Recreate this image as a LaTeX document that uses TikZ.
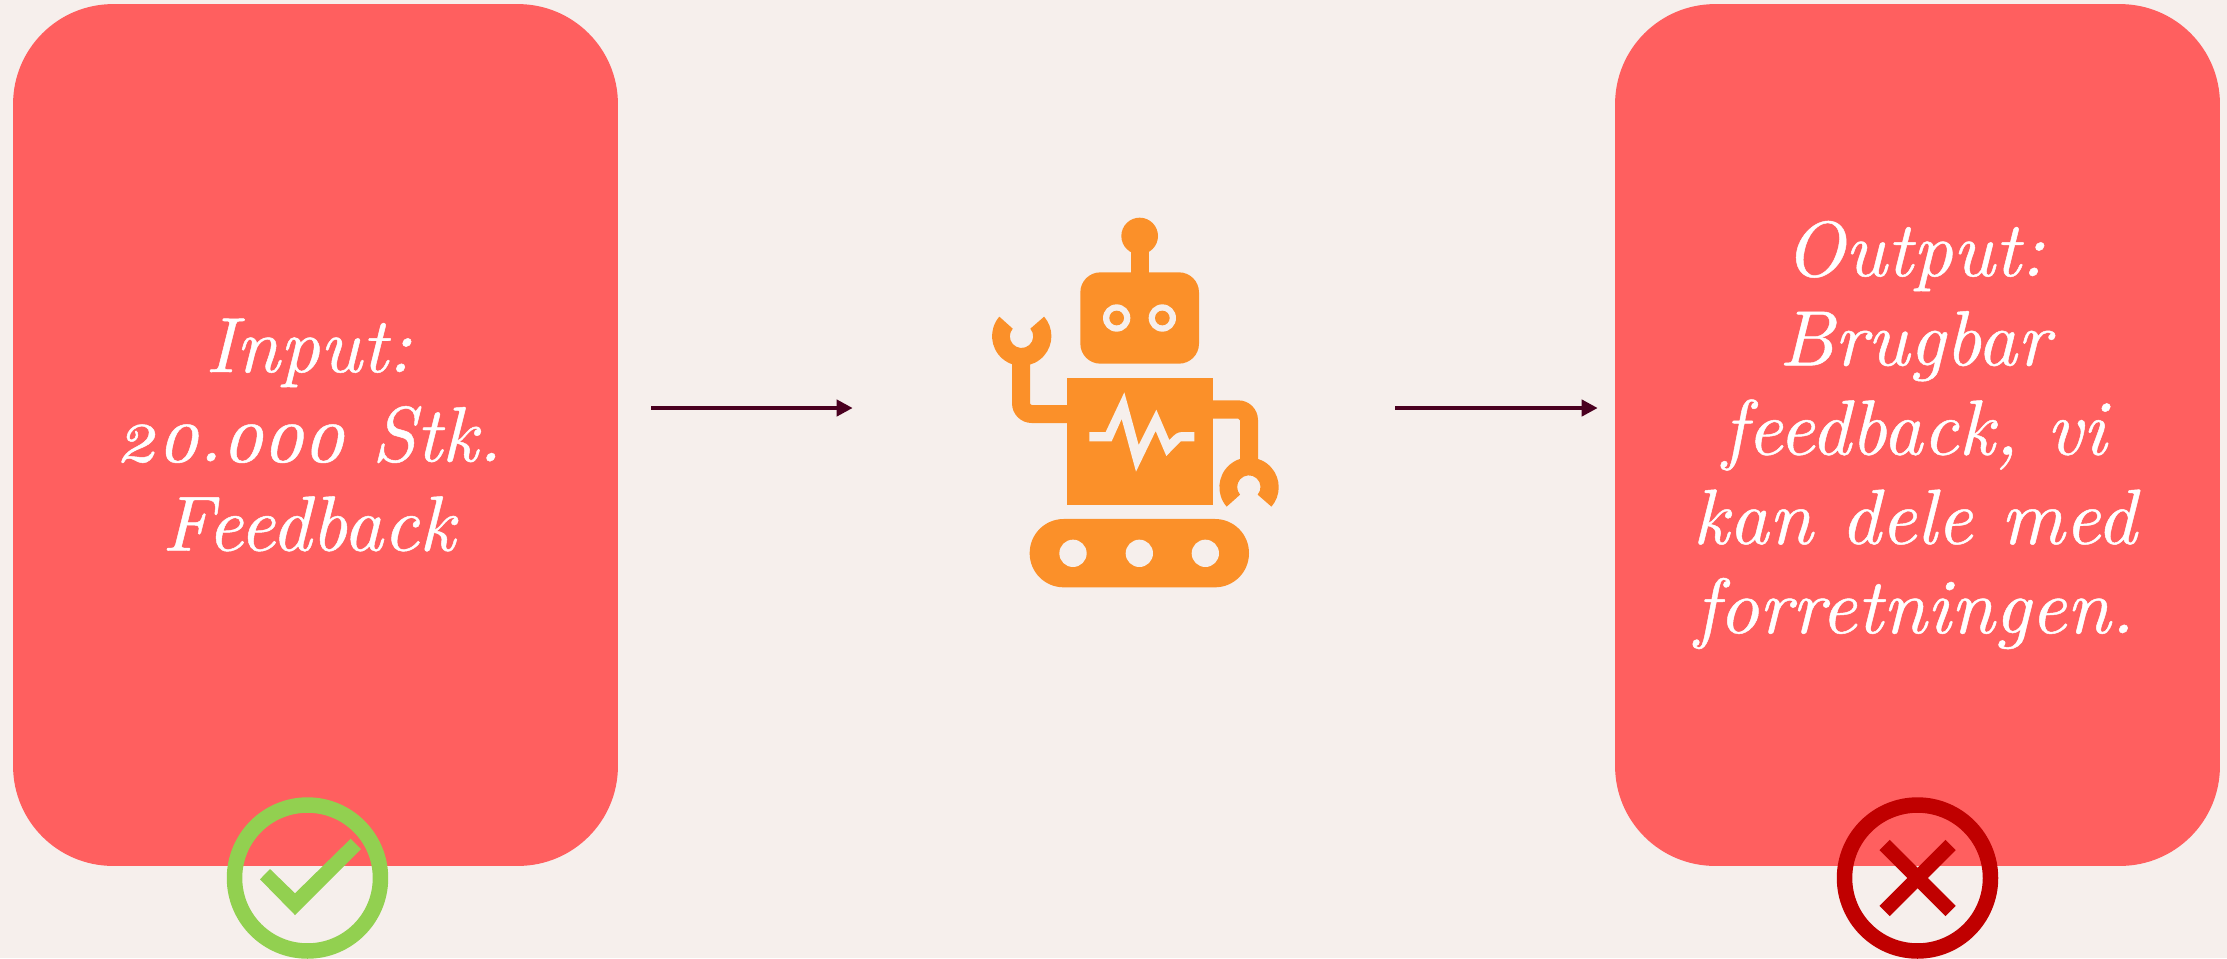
\documentclass[tikz,border=0pt]{standalone}
\usepackage{fontspec}
\setmainfont{lmroman10-regular}[Extension=.otf, ItalicFont=lmroman10-italic, ItalicFeatures={FakeBold=0.6}, Numbers=OldStyle]
\usetikzlibrary{arrows.meta, positioning}
\definecolor{mybg}{RGB}{246,239,236}
\definecolor{myred}{RGB}{255,95,95}
\definecolor{myorange}{RGB}{251,144,41}
\definecolor{mygreen}{RGB}{146,208,80}
\definecolor{mydarkred}{RGB}{192,0,0}
\definecolor{mywine}{RGB}{74,0,32}
\tikzset{
  bigblock/.style={rectangle, fill=myred, minimum width=12.1cm, minimum height=17.24cm,
    rounded corners=2cm},
  blocktext/.style={text=white, align=center, font=\fontsize{44.5}{50.8}\selectfont\itshape},
  ringnode/.style={circle, minimum size=2.92cm, inner sep=0pt, line width=0.31cm},
  botnode/.style={rectangle, minimum width=5.74cm, minimum height=7.16cm},
  arrow/.style={-{Triangle[length=0.32cm,width=0.32cm]}, line width=0.09cm, color=mywine},
  botfill/.style={fill=myorange},
  bgfill/.style={fill=mybg}
}
\begin{document}
\begin{tikzpicture}[x=0.02cm, y=-0.02cm]
  \useasboundingbox (0,0) rectangle (2227,958);
  \fill[mybg] (0,0) rectangle (2227,958);

  \node[bigblock] (inblock) at (315.5,435) {};
  \node[bigblock] (outblock) at (1917.5,435) {};
  \node[blocktext] (intext) at (308.5,435) {Input:\\20.000 Stk.\\Feedback};
  \node[blocktext] (outtext) at (1914.5,435) {Output:\\Brugbar\\feedback, vi\\kan dele med\\forretningen.};
  \node[botnode] (bot) at (1135.5,408) {};

  \draw[arrow, shorten <=0.66cm, shorten >=2.78cm] (inblock.east |- bot.west) -- (bot.west);
  \draw[arrow, shorten <=2.32cm, shorten >=0.34cm] (bot.east) -- (outblock.west |- bot.east);

  \begin{scope}[shift={(960,200)}, x=0.02cm/3, y=-0.02cm/3]
    \fill[botfill] (539,108) circle (55);
    \fill[botfill] (512,140) rectangle (566,230);
    \fill[botfill, rounded corners=0.4cm] (361,217) rectangle (717,491);
    \foreach \x in {470,607} {
      \fill[bgfill] (\x,354) circle (41);
      \fill[botfill] (\x,354) circle (22);
    }
    \fill[botfill] (320,533) rectangle (758,915);
    \fill[bgfill] (388,696) -- (437,696) -- (493,577) -- (536,735) -- (589,629) -- (628,720)
      .. controls (645,702) and (652,696) .. (668,696) -- (703,696) -- (703,724) -- (662,724)
      -- (619,768) -- (587,693) -- (528,815) -- (485,657) -- (455,724) -- (388,724) -- cycle;
    \fill[botfill] (118,350) arc[start angle=221, end angle=-41, radius=89] -- (211,386)
      arc[start angle=-41, end angle=221, radius=35] -- cycle;
    \fill[botfill] (156,480) -- (156,610) arc[start angle=180, end angle=90, radius=59]
      -- (330,669) -- (330,615) -- (216,615) arc[start angle=90, end angle=180, radius=6]
      -- (210,480) -- cycle;
    \fill[botfill] (800,920) arc[start angle=139, end angle=401, radius=89] -- (893,884)
      arc[start angle=401, end angle=139, radius=35] -- cycle;
    \fill[botfill] (750,601) -- (835,601) arc[start angle=-90, end angle=0, radius=59]
      -- (894,790) -- (840,790) -- (840,661) arc[start angle=0, end angle=-90, radius=5]
      -- (750,656) -- cycle;
    \fill[botfill, rounded corners=0.68cm] (209,957) rectangle (867,1162);
    \foreach \x in {339,538,736} \fill[bgfill] (\x,1060) circle (41);
  \end{scope}

  \node[ringnode, draw=mygreen] (okring) at (307.5,878) {};
  \fill[mygreen] (260,879.3) -- (270,869) -- (295,893.3) -- (350.7,838.7) -- (361,849) -- (295,915) -- cycle;

  \node[ringnode, draw=mydarkred] (noring) at (1917.5,878) {};
  \draw[mydarkred, line width=0.29cm] (1884.5,845) -- (1950.5,911);
  \draw[mydarkred, line width=0.29cm] (1950.5,845) -- (1884.5,911);
\end{tikzpicture}
\end{document}
